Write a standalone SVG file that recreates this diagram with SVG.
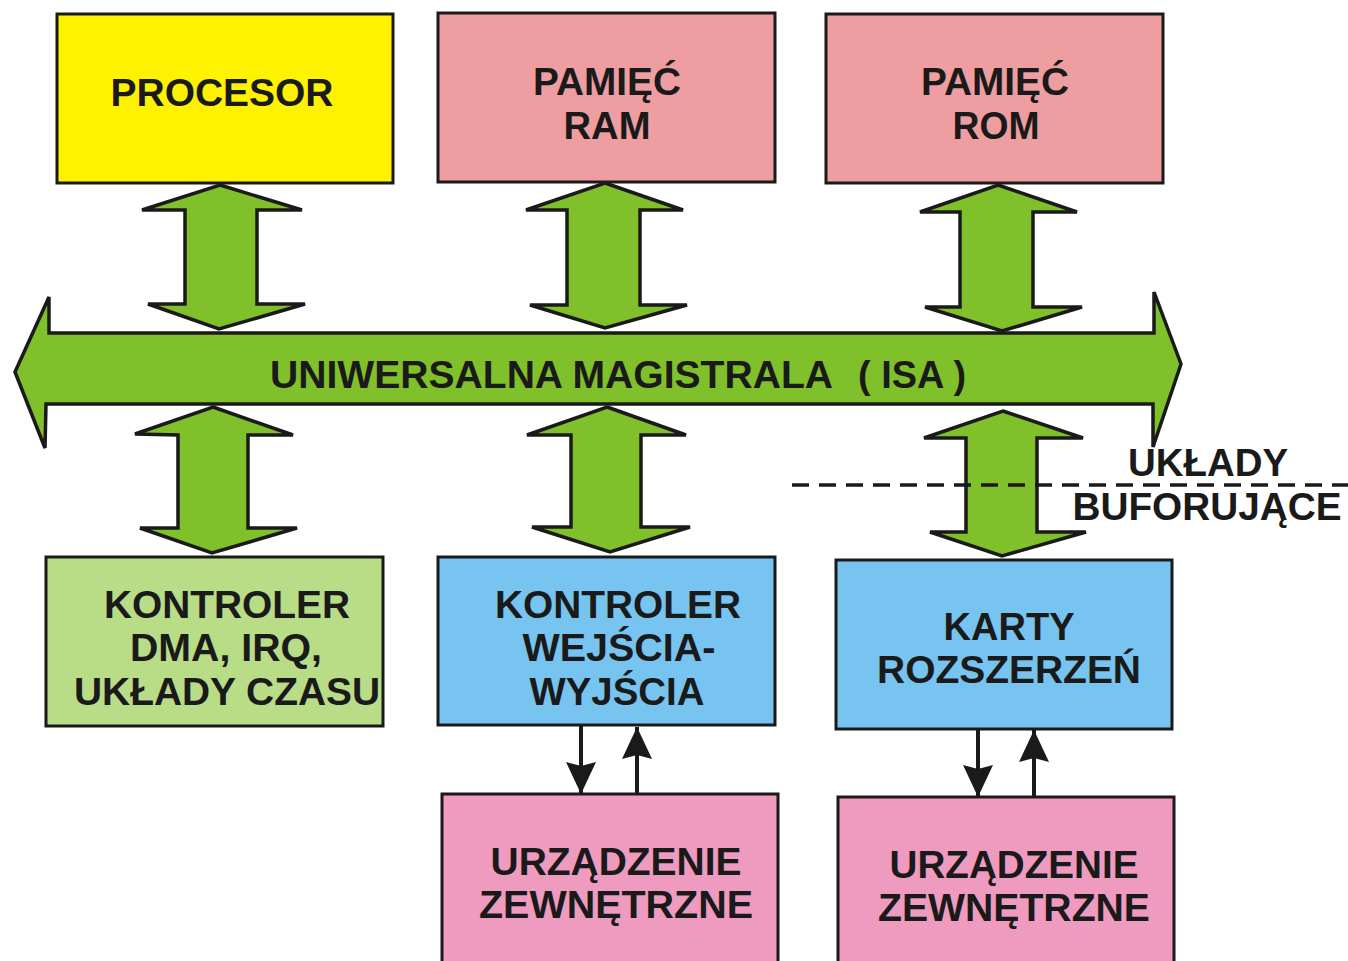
<svg xmlns="http://www.w3.org/2000/svg" width="1348" height="961" viewBox="0 0 1348 961">
<style>
.box{stroke:#1a1a1a;stroke-width:3}
.big{fill:#80C02A;stroke:#1a1a1a;stroke-width:3.5;stroke-linejoin:miter}
.t{font-family:"Liberation Sans",Arial,sans-serif;font-weight:bold;font-size:38px;fill:#1a1a1a;text-anchor:middle}
.ln{stroke:#1a1a1a;stroke-width:4;fill:none}
</style>
<defs>
<marker id="ah2" viewBox="0 0 32 30" refX="32" refY="15" markerWidth="32" markerHeight="30" markerUnits="userSpaceOnUse" orient="auto">
<path d="M0,0 L32,15 L0,30 L4,15 z" fill="#1a1a1a"/>
</marker>
</defs>
<rect width="1348" height="961" fill="#ffffff"/>

<g id="bus">
<polygon class="big" points="15,372 49,297 49,333 1154,333 1154,292 1181,364 1153,447 1153,404 46,404 45,448"/>
<text class="t" x="551.5" y="388" textLength="563" lengthAdjust="spacingAndGlyphs">UNIWERSALNA MAGISTRALA</text>
<text class="t" x="912" y="388" textLength="108" lengthAdjust="spacingAndGlyphs">( ISA )</text>
</g>

<g id="connectors">
<polygon class="big" points="220,185 302,210 257,210 257,304 305,304 219,329 148,304 185,304 185,210 142,210"/>
<polygon class="big" points="605,183 683,210 640,210 640,305 687,305 605,328 530,305 567,305 567,210 526,210"/>
<polygon class="big" points="998,185 1077,212 1033,212 1033,307 1082,307 1002,331 925,307 960,307 960,212 920,212"/>
<polygon class="big" points="213,407 293,435 248,435 248,528 297,528 212,553 140,528 178,528 178,435 135,434"/>
<polygon class="big" points="607,407 686,435 641,435 641,527 690,527 610,552 532,527 571,527 571,435 527,435"/>
<polygon class="big" points="1003,411 1083,438 1037,438 1037,532 1086,532 1002,556 930,532 966,532 966,438 924,438"/>
<line x1="792" y1="485" x2="1348" y2="485" stroke="#1a1a1a" stroke-width="3.5" stroke-dasharray="17 10"/>
<line class="ln" x1="581" y1="726" x2="581" y2="794" marker-end="url(#ah2)"/>
<line class="ln" x1="637" y1="794" x2="637" y2="727" marker-end="url(#ah2)"/>
<line class="ln" x1="978" y1="730" x2="978" y2="797" marker-end="url(#ah2)"/>
<line class="ln" x1="1034" y1="797" x2="1034" y2="730" marker-end="url(#ah2)"/>
</g>

<g id="buf-label">
<text class="t" x="1208" y="476" textLength="160" lengthAdjust="spacingAndGlyphs">UKŁADY</text>
<text class="t" x="1207" y="520" textLength="269" lengthAdjust="spacingAndGlyphs">BUFORUJĄCE</text>
</g>

<g id="procesor">
<rect class="box" x="57" y="14" width="336" height="169" fill="#FFF200"/>
<text class="t" x="222" y="106" textLength="223" lengthAdjust="spacingAndGlyphs">PROCESOR</text>
</g>

<g id="ram">
<rect class="box" x="438" y="13" width="337" height="169" fill="#EE9DA0"/>
<text class="t" x="607" y="95" textLength="148" lengthAdjust="spacingAndGlyphs">PAMIĘĆ</text>
<text class="t" x="607" y="139" textLength="87" lengthAdjust="spacingAndGlyphs">RAM</text>
</g>

<g id="rom">
<rect class="box" x="826" y="14" width="337" height="169" fill="#EE9DA0"/>
<text class="t" x="995" y="95" textLength="148" lengthAdjust="spacingAndGlyphs">PAMIĘĆ</text>
<text class="t" x="996" y="139" textLength="87" lengthAdjust="spacingAndGlyphs">ROM</text>
</g>

<g id="dma">
<rect class="box" x="46" y="557" width="337" height="169" fill="#B9DC87"/>
<text class="t" x="227" y="618" textLength="246" lengthAdjust="spacingAndGlyphs">KONTROLER</text>
<text class="t" x="226" y="661" textLength="192" lengthAdjust="spacingAndGlyphs">DMA, IRQ,</text>
<text class="t" x="227" y="705" textLength="306" lengthAdjust="spacingAndGlyphs">UKŁADY CZASU</text>
</g>

<g id="io">
<rect class="box" x="438" y="557" width="337" height="168" fill="#76C4EF"/>
<text class="t" x="618" y="618" textLength="246" lengthAdjust="spacingAndGlyphs">KONTROLER</text>
<text class="t" x="619" y="661" textLength="193" lengthAdjust="spacingAndGlyphs">WEJŚCIA-</text>
<text class="t" x="617" y="705" textLength="175" lengthAdjust="spacingAndGlyphs">WYJŚCIA</text>
</g>

<g id="karty">
<rect class="box" x="836" y="560" width="336" height="169" fill="#76C4EF"/>
<text class="t" x="1009" y="640" textLength="131" lengthAdjust="spacingAndGlyphs">KARTY</text>
<text class="t" x="1009" y="683" textLength="264" lengthAdjust="spacingAndGlyphs">ROZSZERZEŃ</text>
</g>

<g id="dev1">
<rect class="box" x="442" y="794" width="336" height="170" fill="#EF9BBF"/>
<text class="t" x="616" y="875" textLength="251" lengthAdjust="spacingAndGlyphs">URZĄDZENIE</text>
<text class="t" x="616" y="918" textLength="274" lengthAdjust="spacingAndGlyphs">ZEWNĘTRZNE</text>
</g>

<g id="dev2">
<rect class="box" x="838" y="797" width="336" height="167" fill="#EF9BBF"/>
<text class="t" x="1014" y="878" textLength="249" lengthAdjust="spacingAndGlyphs">URZĄDZENIE</text>
<text class="t" x="1014" y="921" textLength="272" lengthAdjust="spacingAndGlyphs">ZEWNĘTRZNE</text>
</g>
</svg>
